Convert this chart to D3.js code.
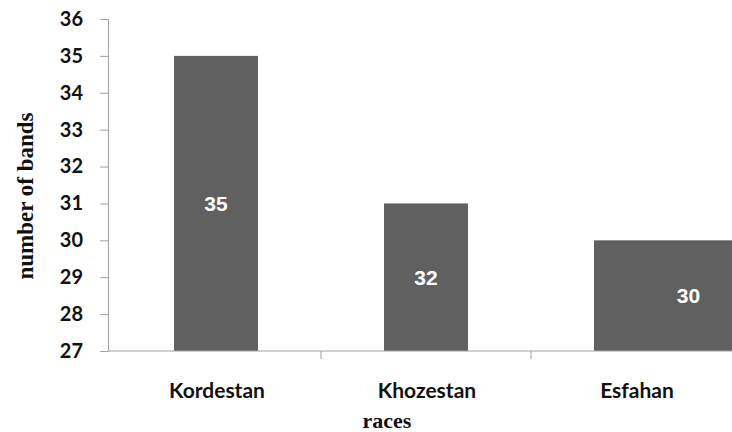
<!DOCTYPE html>
<html>
<head>
<meta charset="utf-8">
<script src="https://cdn.jsdelivr.net/npm/d3@7"></script>
<style>
  body { margin: 0; background: #fff; }
</style>
</head>
<body>
<script>
var races = ["Kordestan", "Khozestan", "Esfahan"];
var bands = [35, 31, 30];
var barLabels = ["35", "32", "30"];
var yTicks = [27, 28, 29, 30, 31, 32, 33, 34, 35, 36];

var w = 732, h = 432;

var svg = d3.select("body").append("svg")
  .attr("width", w)
  .attr("height", h);

var x = d3.scaleBand()
  .domain(races)
  .range([111, 741])
  .paddingInner(0.6)
  .paddingOuter(0.3);

var y = d3.scaleLinear()
  .domain([27, 36])
  .range([351, 19]);

// last bar runs off the right edge in the original
function barW(d, i) {
  return i === races.length - 1 ? x.step() * 0.9 : x.bandwidth();
}

svg.selectAll(".bar")
  .data(races)
  .enter().append("rect")
  .attr("x", function (d) { return x(d); })
  .attr("y", function (d, i) { return y(bands[i]); })
  .attr("width", barW)
  .attr("height", function (d, i) { return y(27) - y(bands[i]); })
  .attr("fill", "#606060");

svg.selectAll(".lbl")
  .data(races)
  .enter().append("text")
  .attr("x", function (d, i) { return x(d) + barW(d, i) / 2; })
  .attr("y", function (d, i) { return (y(bands[i]) + y(27)) / 2; })
  .attr("dy", "0.35em")
  .attr("text-anchor", "middle")
  .attr("font-family", "Liberation Sans, Arial, sans-serif")
  .attr("font-weight", "bold")
  .attr("font-size", 21)
  .attr("fill", "#fff")
  .text(function (d, i) { return barLabels[i]; });

// y axis
var yAxis = svg.append("g")
  .attr("transform", "translate(108,0)")
  .call(d3.axisLeft(y).tickValues(yTicks).tickSize(8).tickPadding(17).tickFormat(d3.format("d")));
yAxis.select(".domain").attr("stroke", "#a0a0a0");
yAxis.selectAll(".tick line").attr("stroke", "#a0a0a0");
yAxis.selectAll(".tick text")
  .attr("font-family", "Lato, 'Open Sans', sans-serif")
  .attr("font-weight", "bold")
  .attr("font-size", 20)
  .attr("fill", "#111");

// x axis line, ticks between categories
var step = x.step();
var bounds = races.map(function (d) { return x(d) - x.paddingOuter() * step; }).slice(1);
svg.append("line")
  .attr("x1", 108).attr("x2", w)
  .attr("y1", y(27)).attr("y2", y(27))
  .attr("stroke", "#a0a0a0");
svg.selectAll(".xtick")
  .data(bounds)
  .enter().append("line")
  .attr("x1", function (d) { return d; })
  .attr("x2", function (d) { return d; })
  .attr("y1", y(27)).attr("y2", y(27) + 8)
  .attr("stroke", "#a0a0a0");
svg.selectAll(".xlbl")
  .data(races)
  .enter().append("text")
  .attr("x", function (d) { return x(d) + x.bandwidth() / 2 + 1; })
  .attr("y", 398)
  .attr("text-anchor", "middle")
  .attr("font-family", "Lato, 'Open Sans', sans-serif")
  .attr("font-weight", "bold")
  .attr("font-size", 21)
  .attr("fill", "#111")
  .text(function (d) { return d; });

// axis titles
svg.append("text")
  .attr("x", 387)
  .attr("y", 428)
  .attr("text-anchor", "middle")
  .attr("font-family", "Liberation Serif, 'Times New Roman', serif")
  .attr("font-weight", "bold")
  .attr("font-size", 22)
  .attr("fill", "#111")
  .text("races");

svg.append("text")
  .attr("transform", "translate(33,196) rotate(-90)")
  .attr("text-anchor", "middle")
  .attr("font-family", "Liberation Serif, 'Times New Roman', serif")
  .attr("font-weight", "bold")
  .attr("font-size", 23)
  .attr("fill", "#111")
  .text("number of bands");
</script>
</body>
</html>
